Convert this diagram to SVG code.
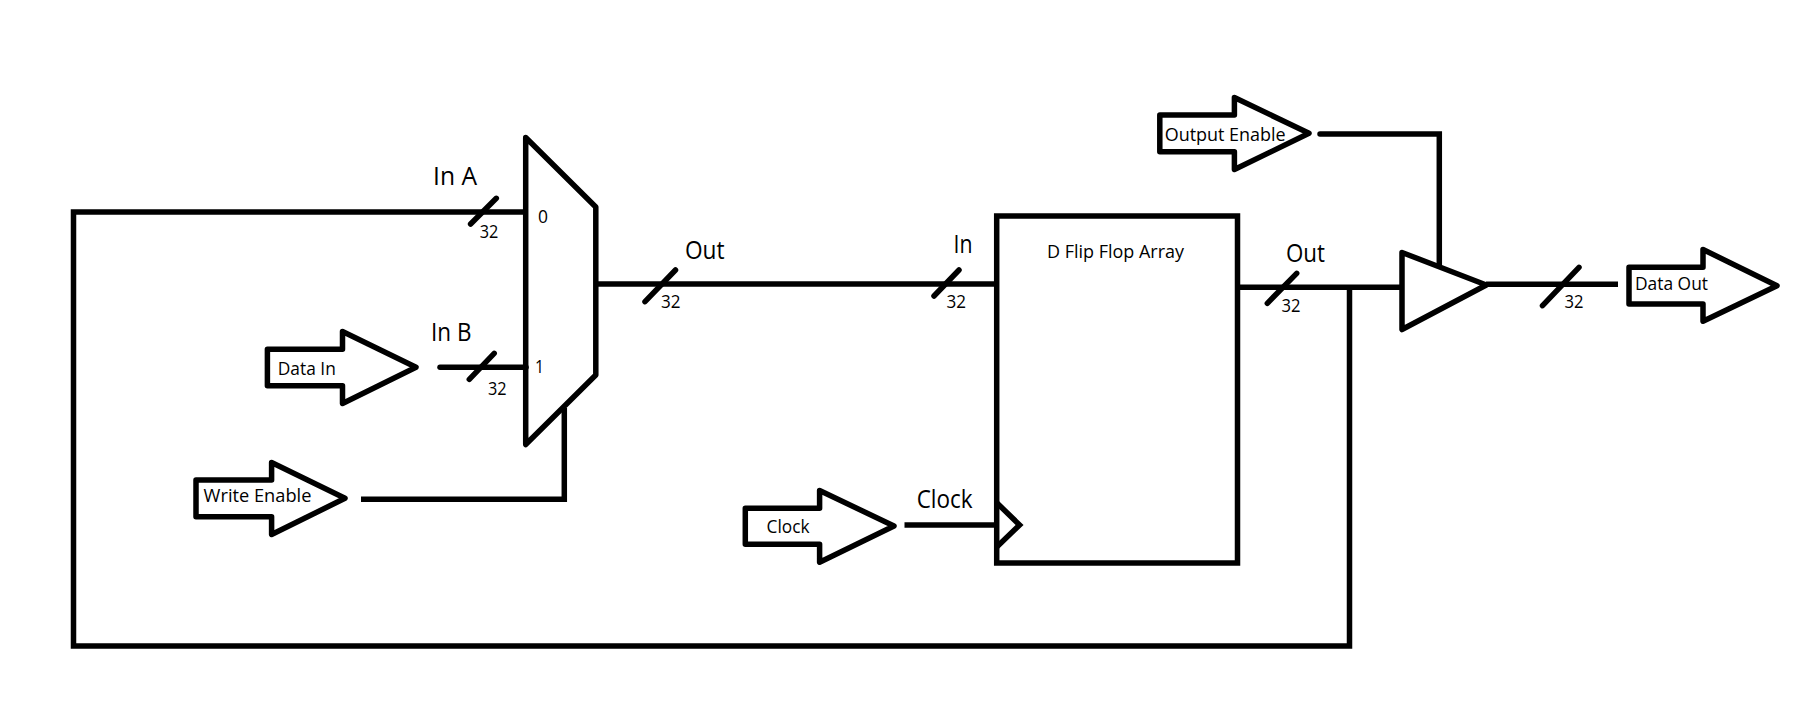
<svg xmlns="http://www.w3.org/2000/svg" width="1818" height="727" viewBox="0 0 1818 727">
<style>
.s{fill:#fff;stroke:#000;stroke-width:5.500;stroke-linejoin:round;stroke-linecap:round}
.w{fill:none;stroke:#000;stroke-width:5.500;stroke-linejoin:miter;stroke-linecap:butt}
.t{stroke-linecap:round}
text{font-family:"Open Sans","Noto Sans",sans-serif;fill:#000}
.lg{font-size:25px}.md{font-size:18px}.sm{font-size:18px}
</style>
<rect width="1818" height="727" fill="#fff"/>
<g id="connectors">
<path class="w" d="M526 212H73.500V646H1349.500V287"/>
<path class="w t" d="M440 367.300H526"/>
<path class="w" d="M361 499.300H564.300V408"/>
<path class="w" d="M596 284H997"/>
<path class="w" d="M904.500 525H997"/>
<path class="w" d="M1237.500 287.300H1402"/>
<path class="w t" d="M1320 134H1439.300V265"/>
<path class="w" d="M1486 284.300H1618"/>
<path class="w t" d="M470.600 224L496.300 198.300"/>
<path class="w t" d="M469.300 379.300L494.200 353.300"/>
<path class="w t" d="M645 301.700L675.500 270"/>
<path class="w t" d="M934 296L959 270"/>
<path class="w t" d="M1267.300 303.300L1296.700 273.300"/>
<path class="w t" d="M1542.500 305.700L1579 267.300"/>
</g>
<g id="mux">
<polygon class="s" style="fill:none" points="525.700,137.500 595.800,207 595.800,375 525.700,444.500"/>
<text class="md" x="538" y="222.700" textLength="10" lengthAdjust="spacingAndGlyphs">0</text>
<text class="md" x="535" y="372.700" textLength="9" lengthAdjust="spacingAndGlyphs">1</text>
</g>
<g id="flipflop">
<rect class="s" style="fill:none;stroke-linejoin:miter" x="996.700" y="216" width="240.800" height="347"/>
<path class="w" d="M997 503L1019.600 525L997 546.700"/>
<text class="md" x="1047" y="258" textLength="137" lengthAdjust="spacingAndGlyphs">D Flip Flop Array</text>
</g>
<g id="buffer">
<polygon class="s" style="fill:none" points="1402,252.500 1486.300,285 1402,329.500"/>
</g>
<g id="data-in">
<polygon class="s" points="267.400,349.300 342.500,349.300 342.500,331.500 416,367.300 342.500,403.500 342.500,385.700 267.400,385.700"/>
<text class="md" x="277.800" y="375" textLength="58" lengthAdjust="spacingAndGlyphs">Data In</text>
</g>
<g id="write-enable">
<polygon class="s" points="196,480 271.600,480 271.600,462.500 345,498.300 271.600,534.500 271.600,516.700 196,516.700"/>
<text class="md" x="203.600" y="501.700" textLength="107.800" lengthAdjust="spacingAndGlyphs">Write Enable</text>
</g>
<g id="clock">
<polygon class="s" points="745.300,508.300 819.600,508.300 819.600,490.500 894,526 819.600,562.200 819.600,544.300 745.300,544.300"/>
<text class="md" x="766.500" y="533" textLength="43" lengthAdjust="spacingAndGlyphs">Clock</text>
</g>
<g id="output-enable">
<polygon class="s" points="1159.800,115 1234.400,115 1234.400,97.500 1309,133.300 1234.400,169.500 1234.400,151.700 1159.800,151.700"/>
<text class="md" x="1164.700" y="140.700" textLength="121" lengthAdjust="spacingAndGlyphs">Output Enable</text>
</g>
<g id="data-out">
<polygon class="s" points="1629,267.300 1703,267.300 1703,249.500 1777,285.700 1703,321.200 1703,304 1629,304"/>
<text class="md" x="1635" y="290" textLength="73" lengthAdjust="spacingAndGlyphs">Data Out</text>
</g>
<g id="labels">
<text class="lg" x="433" y="185" textLength="44" lengthAdjust="spacingAndGlyphs">In A</text>
<text class="lg" x="431" y="340.700" textLength="40.400" lengthAdjust="spacingAndGlyphs">In B</text>
<text class="lg" x="685" y="259" textLength="39.600" lengthAdjust="spacingAndGlyphs">Out</text>
<text class="lg" x="953.500" y="252.700" textLength="19" lengthAdjust="spacingAndGlyphs">In</text>
<text class="lg" x="916.700" y="508" textLength="56" lengthAdjust="spacingAndGlyphs">Clock</text>
<text class="lg" x="1286" y="262.300" textLength="39" lengthAdjust="spacingAndGlyphs">Out</text>
<text class="sm" x="479.700" y="238" textLength="18.600" lengthAdjust="spacingAndGlyphs">32</text>
<text class="sm" x="488" y="394.700" textLength="18.600" lengthAdjust="spacingAndGlyphs">32</text>
<text class="sm" x="661" y="308" textLength="19.500" lengthAdjust="spacingAndGlyphs">32</text>
<text class="sm" x="946.500" y="308" textLength="19.500" lengthAdjust="spacingAndGlyphs">32</text>
<text class="sm" x="1281.400" y="311.700" textLength="19" lengthAdjust="spacingAndGlyphs">32</text>
<text class="sm" x="1564.400" y="308.300" textLength="19" lengthAdjust="spacingAndGlyphs">32</text>
</g>
</svg>
